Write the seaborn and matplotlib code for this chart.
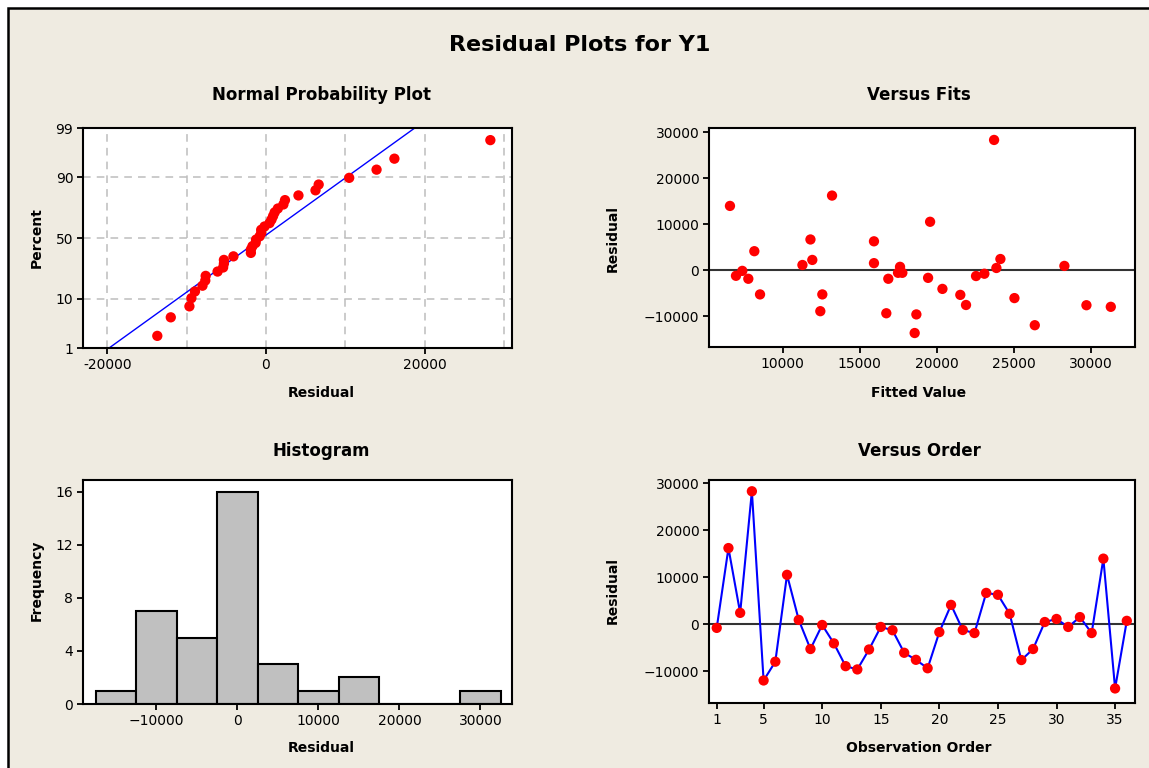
import numpy as np
import pandas as pd
import matplotlib
matplotlib.use('Agg')
import matplotlib.pyplot as plt
from matplotlib.patches import Rectangle
from matplotlib.ticker import FixedLocator
import seaborn as sns
from statistics import NormalDist

# --- residuals in observation order, with their fitted values
residuals = [-800, 16200, 2400, 28300, -12000, -8000, 10500, 900, -5300, -180,
             -4100, -8950, -9650, -5400, -600, -1300, -6100, -7600, -9400, -1700,
             4100, -1250, -1900, 6650, 6250, 2200, -7650, -5300, 450, 1100,
             -600, 1500, -1900, 13950, -13700, 700]
fitted = [23080, 13200, 24120, 23710, 26350, 31280, 19560, 28270, 8530, 7380,
          20360, 12440, 18670, 21520, 17480, 22540, 25030, 21890, 16720, 19430,
          8160, 6970, 7770, 11800, 15920, 11920, 29700, 12570, 23860, 11280,
          17760, 15920, 16850, 6580, 18560, 17610]
order = list(range(1, len(residuals) + 1))

prob_ticks = [1, 10, 50, 90, 99]
hist_edges = list(range(-17500, 35000, 5000))

df = pd.DataFrame({'Order': order, 'Fitted': fitted, 'Residual': residuals})

sns.set_theme(style='white')
plt.rcParams['font.family'] = ['DejaVu Sans']
plt.rcParams['axes.edgecolor'] = 'black'
plt.rcParams['axes.linewidth'] = 1.5
plt.rcParams['xtick.direction'] = 'out'
plt.rcParams['ytick.direction'] = 'out'
plt.rcParams['text.color'] = 'black'
plt.rcParams['xtick.color'] = 'black'
plt.rcParams['ytick.color'] = 'black'

W, H = 1149, 768
bg = '#EFEBE1'
fig = plt.figure(figsize=(W / 100, H / 100), dpi=100, facecolor='white')
frame = Rectangle((8 / W, -0.05), 1.1, 1 - 8 / H + 0.05, transform=fig.transFigure,
                  facecolor=bg, edgecolor='black', linewidth=1.8, clip_on=False, zorder=-10)
fig.patches.append(frame)


def px_axes(l, t, r, b):
    return fig.add_axes([l / W, 1 - b / H, (r - l) / W, (b - t) / H])


def style(ax):
    ax.set_facecolor('white')
    ax.tick_params(axis='both', which='major', length=4, width=1.3, colors='black',
                   labelsize=10, left=True, bottom=True, pad=3)
    for s in ax.spines.values():
        s.set_linewidth(1.5)
        s.set_color('black')
    ax.set_xlabel('')
    ax.set_ylabel('')


def ftext(x, y, s, **kw):
    fig.text(x / W, 1 - y / H, s, ha='center', va='center', fontweight='bold',
             color='black', **kw)


# --- Normal probability plot
ax1 = px_axes(83, 128, 512, 348)
n = len(residuals)
sorted_res = np.sort(residuals)
nd = NormalDist()
zscores = [nd.inv_cdf((i - 0.3) / (n + 0.4)) for i in range(1, n + 1)]
mu, sd = np.mean(residuals), np.std(residuals, ddof=1)
zline = np.linspace(nd.inv_cdf(0.01), nd.inv_cdf(0.99), 50)
sns.lineplot(x=mu + sd * zline, y=zline, color='blue', linewidth=1.0, ax=ax1)
sns.scatterplot(x=sorted_res, y=zscores, color='red', s=55, edgecolor='none', ax=ax1, zorder=3)
ax1.set_xlim(-23070, 31030)
ax1.set_ylim(nd.inv_cdf(0.01), nd.inv_cdf(0.99))
ax1.set_yticks([nd.inv_cdf(p / 100) for p in prob_ticks])
ax1.set_yticklabels([str(p) for p in prob_ticks])
ax1.set_xticks([-20000, 0, 20000])
ax1.set_xticklabels(['-20000', '0', '20000'])
ax1.xaxis.set_minor_locator(FixedLocator([-10000, 10000, 30000]))
ax1.grid(True, which='both', axis='x', linestyle=(0, (5, 4)), color='#BDBDBD', linewidth=1.1)
ax1.grid(True, which='major', axis='y', linestyle=(0, (5, 4)), color='#BDBDBD', linewidth=1.1)
ax1.tick_params(axis='x', which='minor', length=0)
ax1.set_axisbelow(True)
style(ax1)

# --- Versus fits
ax2 = px_axes(709, 128, 1135, 347)
ax2.axhline(0, color='#333333', linewidth=1.5, zorder=1)
sns.scatterplot(data=df, x='Fitted', y='Residual', color='red', s=55, edgecolor='none', ax=ax2, zorder=3)
ax2.set_xlim(5220, 32850)
ax2.set_ylim(-16740, 30900)
ax2.set_xticks([10000, 15000, 20000, 25000, 30000])
ax2.set_yticks([-10000, 0, 10000, 20000, 30000])
style(ax2)

# --- Histogram
ax3 = px_axes(83, 480, 512, 704)
sns.histplot(data=df, x='Residual', bins=hist_edges, color='#C0C0C0', edgecolor='black',
             linewidth=1.5, alpha=1, ax=ax3)
ax3.set_xlim(-19050, 33900)
ax3.set_ylim(0, 16.9)
ax3.set_xticks([-10000, 0, 10000, 20000, 30000])
ax3.set_yticks([0, 4, 8, 12, 16])
style(ax3)

# --- Versus order
ax4 = px_axes(709, 480, 1135, 703)
ax4.axhline(0, color='#333333', linewidth=1.5, zorder=1)
sns.lineplot(data=df, x='Order', y='Residual', color='blue', linewidth=1.5, ax=ax4, zorder=2)
sns.scatterplot(data=df, x='Order', y='Residual', color='red', s=55, edgecolor='none', ax=ax4, zorder=3)
ax4.set_xlim(0.34, 36.7)
ax4.set_ylim(-16800, 30700)
ax4.set_xticks([1, 5, 10, 15, 20, 25, 30, 35])
ax4.set_yticks([-10000, 0, 10000, 20000, 30000])
style(ax4)

# --- titles and labels
ftext(580, 45, 'Residual Plots for Y1', fontsize=16)
ftext(321, 95, 'Normal Probability Plot', fontsize=12)
ftext(919, 95, 'Versus Fits', fontsize=12)
ftext(321, 451, 'Histogram', fontsize=12)
ftext(919, 451, 'Versus Order', fontsize=12)
ftext(321, 393, 'Residual', fontsize=10)
ftext(919, 393, 'Fitted Value', fontsize=10)
ftext(321, 748, 'Residual', fontsize=10)
ftext(919, 748, 'Observation Order', fontsize=10)
ftext(37, 238, 'Percent', fontsize=10, rotation=90)
ftext(613, 238, 'Residual', fontsize=10, rotation=90)
ftext(37, 580, 'Frequency', fontsize=10, rotation=90)
ftext(613, 590, 'Residual', fontsize=10, rotation=90)

fig.savefig('out.png', dpi=100, facecolor=fig.get_facecolor())
